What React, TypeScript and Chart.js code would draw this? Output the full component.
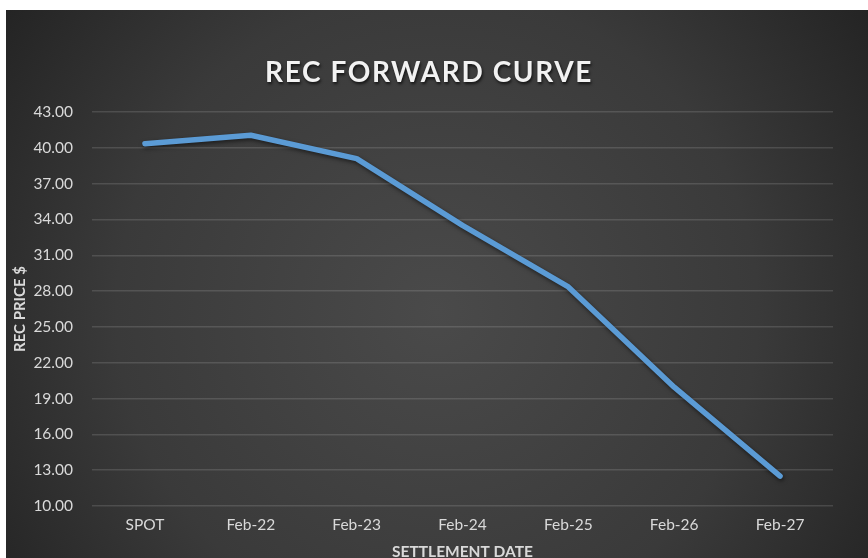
import React, { useEffect, useRef } from "react";
import { Chart, registerables } from "chart.js";

Chart.register(...registerables);

const categories = ["SPOT", "Feb-22", "Feb-23", "Feb-24", "Feb-25", "Feb-26", "Feb-27"];
const recPrices = [40.35, 41.05, 39.1, 33.5, 28.35, 19.95, 12.5];
const yMin = 10;
const yMax = 43;
const yStep = 3;
const chartTitle = "REC FORWARD CURVE";
const xTitle = "SETTLEMENT DATE";
const yTitle = "REC PRICE $";

const FONT = "Lato, 'Open Sans', sans-serif";

const bgPlugin = {
  id: "bgPlugin",
  beforeDraw(chart: any) {
    const { ctx, width, height } = chart;
    ctx.save();
    const g = ctx.createRadialGradient(width / 2, height * 0.55, 0, width / 2, height * 0.55, width * 0.62);
    g.addColorStop(0, "#4a4a4a");
    g.addColorStop(0.6, "#3a3a3a");
    g.addColorStop(1, "#232323");
    ctx.fillStyle = g;
    ctx.fillRect(0, 0, width, height);
    ctx.restore();
  },
  beforeDatasetsDraw(chart: any) {
    const ctx = chart.ctx;
    ctx.save();
    ctx.shadowColor = "rgba(0,0,0,0.55)";
    ctx.shadowBlur = 4;
    ctx.shadowOffsetX = 1;
    ctx.shadowOffsetY = 2;
  },
  afterDatasetsDraw(chart: any) {
    chart.ctx.restore();
  },
  afterDraw(chart: any) {
    const { ctx, width } = chart;
    ctx.save();
    ctx.font = `bold 28px ${FONT}`;
    (ctx as any).letterSpacing = "1.6px";
    ctx.textAlign = "center";
    ctx.textBaseline = "middle";
    ctx.shadowColor = "rgba(0,0,0,0.7)";
    ctx.shadowBlur = 3;
    ctx.shadowOffsetX = 1;
    ctx.shadowOffsetY = 2;
    ctx.fillStyle = "#f2f2f2";
    ctx.fillText(chartTitle, width / 2 - 8, 63);
    ctx.restore();
  },
};

export default function App() {
  const ref = useRef<HTMLCanvasElement | null>(null);
  useEffect(() => {
    if (!ref.current) return;
    const chart = new Chart(ref.current, {
      type: "line",
      data: {
        labels: categories,
        datasets: [
          {
            data: recPrices,
            borderColor: "#5b9bd5",
            borderWidth: 5.5,
            borderCapStyle: "round",
            borderJoinStyle: "round",
            pointRadius: 0,
            tension: 0,
            fill: false,
          },
        ],
      },
      options: {
        responsive: true,
        maintainAspectRatio: false,
        animation: false,
        layout: { padding: { top: 102, right: 35, left: 0, bottom: 0 } },
        plugins: {
          legend: { display: false },
          title: { display: false },
          tooltip: { enabled: false },
        },
        scales: {
          x: {
            offset: true,
            grid: { display: false, drawTicks: false },
            border: { display: false },
            ticks: {
              color: "#d9d9d9",
              font: { family: FONT, size: 15.5 },
              padding: 10,
              maxRotation: 0,
            },
            title: {
              display: true,
              text: xTitle,
              color: "#d9d9d9",
              font: { family: FONT, size: 15.5, weight: "bold" },
              padding: { top: 0, bottom: -3 },
            },
            afterFit(scale: any) {
              scale.height = 52;
            },
          },
          y: {
            min: yMin,
            max: yMax,
            grid: {
              color: "rgba(255,255,255,0.13)",
              lineWidth: 1.5,
              drawTicks: false,
            },
            border: { display: false },
            ticks: {
              stepSize: yStep,
              color: "#d9d9d9",
              font: { family: FONT, size: 15.5 },
              padding: 19,
              callback: (v: any) => Number(v).toFixed(2),
            },
            title: {
              display: true,
              text: yTitle,
              color: "#d9d9d9",
              font: { family: FONT, size: 15, weight: "bold" },
              padding: { top: 5, bottom: 0 },
            },
            afterFit(scale: any) {
              scale.width = 86;
            },
          },
        },
      },
      plugins: [bgPlugin],
    });
    return () => chart.destroy();
  }, []);
  return (
    <div style={{ position: "absolute", left: 6, top: 10, width: 862, height: 548 }}>
      <canvas ref={ref} />
    </div>
  );
}
